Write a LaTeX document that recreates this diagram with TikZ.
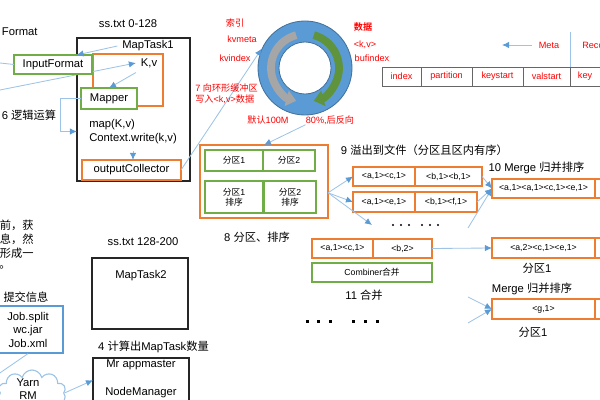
\documentclass[tikz,border=0pt]{standalone}
\usepackage{fontspec}
\setmainfont{Liberation Sans}
\newfontfamily\cjk{Noto Sans CJK SC}[BoldFont={Noto Sans CJK SC Bold}]
\usetikzlibrary{positioning,arrows.meta,shapes.symbols}
\definecolor{orbox}{HTML}{ED7D31}
\definecolor{grbox}{HTML}{70AD47}
\definecolor{blbox}{HTML}{5B9BD5}
\definecolor{lnblue}{HTML}{9DC3E6}
\definecolor{ringedge}{HTML}{41719C}
\definecolor{txtred}{HTML}{FF0000}

\begin{document}
\begin{tikzpicture}[x=0.025cm, y=-0.025cm, font=\fontsize{8}{9.6}\selectfont,
  obox/.style={draw=orbox, line width=1pt, fill=white, inner sep=0pt, outer sep=0pt},
  gbox/.style={draw=grbox, line width=1pt, fill=white, inner sep=0pt, outer sep=0pt, align=center},
  kbox/.style={draw=black!85, line width=0.9pt, inner sep=0pt, outer sep=0pt},
  sm/.style={font=\fontsize{6.2}{7.4}\selectfont},
  cell/.style={draw=black!60, line width=0.6pt, inner sep=0pt, outer sep=0pt, minimum height=0.475cm, text=txtred, font=\fontsize{6.5}{7.8}\selectfont},
  redlbl/.style={text=txtred, font=\fontsize{6.5}{7.8}\selectfont, inner sep=0pt},
  lnk/.style={draw=lnblue, line width=0.6pt, -{Latex[length=5pt,width=4.5pt,color=blbox]}},
  ln/.style={draw=lnblue, line width=0.6pt}]
\useasboundingbox (0,0) rectangle (600,400);
\clip (0,0) rectangle (600,400);

% map task 1
\node[anchor=west] (fmt) at (-3,32) {Format};
\node (ss1) at (128,24) {ss.txt 0-128};
\node[kbox, minimum width=2.825cm, minimum height=3.575cm] (mt1) at (133.5,109.5) {};
\node (mt1lbl) at (148,46) {MapTask1};
\node[obox, fill=none, minimum width=1.75cm, minimum height=1.3cm] (kvbox) at (128,80) {};
\node (kv) at (149,63) {K,v};
\coordinate (kvsrc) at (0,90);
\draw[lnk] (kvsrc) -- (kv.west);
\node[gbox, minimum width=1.95cm, minimum height=0.475cm] (infmt) at (53,64.5) {InputFormat};
\node[gbox, minimum width=1.4cm, minimum height=0.525cm] (mapper) at (109,98.5) {Mapper};
\node[anchor=west, align=left, inner sep=0pt] (mapcode) at (89,131.5) {map(K,v)\\Context.write(k,v)};
\node[obox, minimum width=2.475cm, minimum height=0.5cm] (oc) at (131.5,170) {outputCollector};
\node (logic) at (29,115) {6 {\cjk 逻辑运算}};
\coordinate (fmtin) at (0,63);
\coordinate (ocin) at (133,151);
\draw[ln] (fmtin) -- (infmt.west);
\draw[lnk] (mt1lbl.west) -- (infmt.22);
\draw[lnk] (kv.south west) -- (mapper.north);
\draw[lnk] (mapper.west) -- ++(-21,0) |- (mt1.west |- mapcode.west);
\draw[lnk] (ocin) -- (oc.north -| ocin);

% ring buffer
\node[circle, draw=ringedge, line width=0.6pt, fill=blbox, minimum size=2.35cm, inner sep=0pt] (ring) at (305,68) {};
\node[circle, draw=ringedge, line width=0.6pt, fill=white, minimum size=1.3cm, inner sep=0pt] (hole) at (ring) {};
\draw[line width=5.5pt, gray!70, -{Triangle[length=7pt,width=11pt]}] (ring.center) ++(255:34) arc[start angle=255, end angle=105, radius=34];
\draw[line width=5.5pt, grbox!85!black, -{Triangle[length=7pt,width=11pt]}] (ring.center) ++(285:34) arc[start angle=285, end angle=435, radius=34];
\draw[lnk] (oc.east) -- (ring.156);
\node[redlbl] (idxcn) at (235,23) {\cjk 索引};
\node[redlbl] (kvmeta) at (242,39) {kvmeta};
\node[redlbl] (kvindex) at (235,58) {kvindex};
\node[redlbl] (datacn) at (363,27) {\cjk\bfseries 数据};
\node[redlbl] (kvdata) at (365,45) {<k,v>};
\node[redlbl] (bufidx) at (372,58) {bufindex};
\node[redlbl, anchor=north west, align=left] (step7) at (195,84) {7 {\cjk 向环形缓冲区}\\{\cjk 写入}<k,v>{\cjk 数据}};
\node[redlbl] (def100) at (268,120) {{\cjk 默认}100M};
\node[redlbl] (pct80) at (330,120) {80\%,{\cjk 后反向}};

% meta table
\node[redlbl] (meta) at (549,45) {Meta};
\coordinate (metaend) at (502,45);
\draw[lnk] ([xshift=-5pt]meta.west) -- (metaend);
\node[redlbl, anchor=west] (rec) at (582,45) {Record};
\node[cell, minimum width=0.975cm] (idx) at (401.5,76.5) {index};
\node[cell, minimum width=1.275cm, right=0pt of idx] (part) {partition};
\node[cell, minimum width=1.275cm, right=0pt of part] (ks) {keystart};
\node[cell, minimum width=1.175cm, right=0pt of ks] (vs) {valstart};
\node[cell, minimum width=0.75cm, right=0pt of vs] (key) {key};
\draw[ln] (vs.north east) -- ++(0,-35);

% partition and sort
\node[obox, fill=none, minimum width=3.2cm, minimum height=1.825cm] (pbox) at (264,181.5) {};
\node[gbox, sm, minimum width=1.45cm, minimum height=0.525cm] (p1) at (234,160.5) {{\cjk 分区}1};
\node[gbox, sm, minimum width=1.3cm, minimum height=0.525cm] (p2) at (289,160.5) {{\cjk 分区}2};
\node[gbox, sm, minimum width=1.45cm, minimum height=0.8cm] (p1s) at (234,197) {{\cjk 分区}1\\{\cjk 排序}};
\node[gbox, sm, minimum width=1.3cm, minimum height=0.8cm] (p2s) at (290,197) {{\cjk 分区}2\\{\cjk 排序}};
\node (step8) at (257,237) {8 {\cjk 分区、排序}};
\draw[lnk] (pct80.south west) -- (pbox.north);

% spill
\node[anchor=west] (step9) at (336,150) {9 {\cjk 溢出到文件（分区且区内有序）}};
\node[obox, sm, minimum width=1.55cm, minimum height=0.475cm] (s1a) at (384,176.5) {<a,1><c,1>};
\node[obox, sm, minimum width=1.675cm, minimum height=0.475cm, right=0pt of s1a] (s1b) {<b,1><b,1>};
\node[obox, sm, minimum width=1.55cm, minimum height=0.5cm] (s2a) at (384,202) {<a,1><e,1>};
\node[obox, sm, minimum width=1.55cm, minimum height=0.5cm, right=0pt of s2a] (s2b) {<b,1><f,1>};
\coordinate (dotsA) at (372,225);
\foreach \t in {s1a,s2a}
  \draw[lnk] (pbox.-10) -- (\t.west);
\draw[lnk] (pbox.-10) -- (dotsA);
\foreach \x in {393,401,409,422,430,438}
  \fill (\x,225) circle[radius=1.1];

% merge
\node (step10) at (536.5,168) {10 Merge {\cjk 归并排序}};
\node[obox, sm, minimum width=2.575cm, minimum height=0.475cm] (m1a) at (543.5,188.5) {<a,1><a,1><c,1><e,1>};
\node[obox, minimum width=1.25cm, minimum height=0.475cm, right=0pt of m1a] (m1b) {};
\coordinate (dotsB) at (468,228);
\draw[lnk] (s1b.east) -- (m1a.west);
\draw[lnk] (s2b.east) -- (m1a.west);
\draw[lnk] (dotsB) -- (m1a.west);

% combiner
\node[obox, sm, minimum width=1.525cm, minimum height=0.475cm] (c1a) at (342.5,248.5) {<a,1><c,1>};
\node[obox, sm, minimum width=1.475cm, minimum height=0.475cm, right=0pt of c1a] (c1b) {<b,2>};
\node[gbox, sm, minimum width=3cm, minimum height=0.475cm] (comb) at (372,272.5) {Combiner{\cjk 合并}};
\node (step11) at (364,295) {11 {\cjk 合并}};
\node[obox, sm, minimum width=2.575cm, minimum height=0.5cm] (m2a) at (543.5,248) {<a,2><c,1><e,1>};
\node[obox, minimum width=1.25cm, minimum height=0.5cm, right=0pt of m2a] (m2b) {};
\draw[lnk] (c1b.east) -- (m2a.west);
\node (pa1) at (537,268) {{\cjk 分区}1};
\node (mrg2) at (532,289) {Merge {\cjk 归并排序}};
\node[obox, sm, minimum width=2.575cm, minimum height=0.5cm] (m3a) at (543.5,309) {<g,1>};
\node[obox, minimum width=1.25cm, minimum height=0.5cm, right=0pt of m3a] (m3b) {};
\node (pa2) at (533,332) {{\cjk 分区}1};
\coordinate (dotsC) at (468,297);
\coordinate (dotsD) at (468,323);
\draw[lnk] (dotsC) -- (m3a.west);
\draw[lnk] (dotsD) -- (m3a.west);
\foreach \x in {307,318,330,353,365,377}
  \fill (\x-1.5,320.5) rectangle ++(3,3);

% job submit
\node[anchor=east, inner sep=0pt] (para1) at (34,225) {\cjk 前，获};
\node[anchor=east, inner sep=0pt] (para2) at (34,239) {\cjk 息，然};
\node[anchor=east, inner sep=0pt] (para3) at (34,253) {\cjk 形成一};
\node[anchor=west, inner sep=0pt] (para4) at (-1,267) {\cjk 。};
\node (submit) at (26,297) {\cjk 提交信息};
\node[draw=blbox, line width=0.9pt, minimum width=1.75cm, minimum height=1.175cm, align=center, inner sep=0pt] (jobs) at (28,329.5) {Job.split\\wc.jar\\Job.xml};
\coordinate (jobsout) at (-6,377);
\draw[ln] (jobs.south) -- (jobsout);
\node[cloud, draw=lnblue, line width=0.8pt, cloud puffs=10, aspect=1.5, minimum width=1.7cm, minimum height=1.15cm, inner sep=0pt] (yarn) at (32,393) {};
\node[align=center] (yarnlbl) at (28,389) {Yarn\\RM};

% map task 2 and app master
\node (ss2) at (143,242) {ss.txt 128-200};
\node[kbox, minimum width=2.4cm, minimum height=1.775cm] (mt2) at (140,293.5) {};
\node (mt2lbl) at (141,276) {MapTask2};
\node (step4) at (153.5,347) {4 {\cjk 计算出}MapTask{\cjk 数量}};
\node[kbox, minimum width=2.4cm, minimum height=1.8cm] (am) at (141,394) {};
\node (amlbl) at (141,365) {Mr appmaster};
\node (nmlbl) at (141,393) {NodeManager};
\draw[lnk] (yarn.east) -- (am.164);
\end{tikzpicture}
\end{document}
